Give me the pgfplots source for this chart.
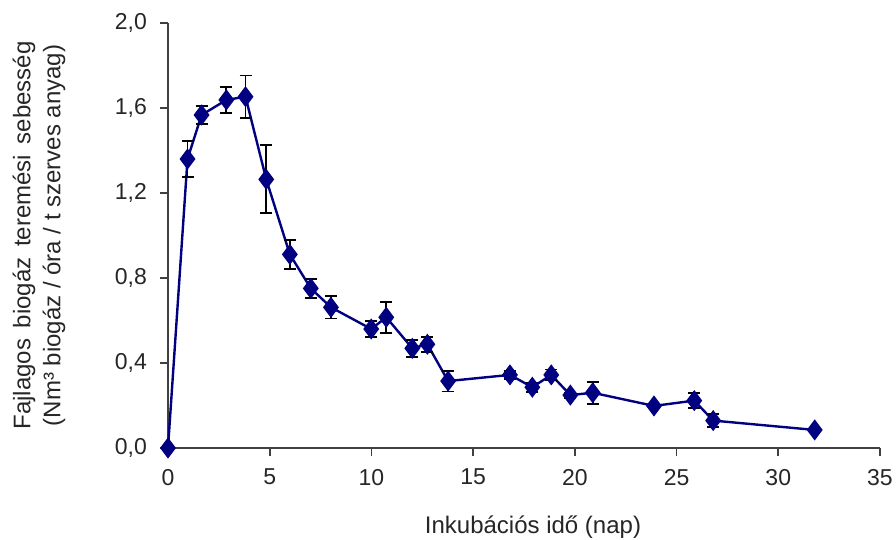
\documentclass[border=0pt]{standalone}
\usepackage{fontspec}
\setmainfont{Liberation Sans}
\usepackage{pgfplots}
\pgfplotsset{compat=1.18}
\definecolor{navy}{HTML}{000080}
\pgfplotstableread{
x y e
0 0 0
0.96 1.36 0.086
1.65 1.567 0.043
2.87 1.638 0.06
3.81 1.653 0.10
4.83 1.264 0.16
5.99 0.911 0.068
7.02 0.751 0.046
8.01 0.662 0.053
9.99 0.56 0.037
10.73 0.615 0.072
12.01 0.469 0.039
12.75 0.488 0.035
13.77 0.315 0.049
16.81 0.344 0.018
17.91 0.286 0.022
18.84 0.344 0.025
19.78 0.249 0.012
20.88 0.26 0.052
23.89 0.198 0.01
25.87 0.223 0.035
26.80 0.129 0.03
31.79 0.085 0
}\biogas
\begin{document}
\begin{tikzpicture}
\path[use as bounding box] (-84pt,-46pt) rectangle (364pt,224pt);
\begin{axis}[
  at={(0,0)}, anchor=south west,
  scale only axis, width=356pt, height=212.5pt,
  xmin=0, xmax=35, ymin=0, ymax=2,
  xtick={0,5,10,15,20,25,30,35},
  ytick={0,0.4,0.8,1.2,1.6,2.0},
  axis lines=left,
  axis line style={-, black!75, line width=0.8pt},
  tick align=outside, major tick length=4pt,
  tick style={black!75, line width=0.8pt},
  /pgf/number format/assume math mode=true,
  tick label style={font=\fontsize{11.5pt}{13pt}\selectfont, black!85},
  x tick label style={yshift=-3pt},
  y tick label style={xshift=-3pt, /pgf/number format/.cd, fixed, fixed zerofill, precision=1, use comma},
  label style={font=\fontsize{12pt}{15pt}\selectfont, black!85},
  xlabel={Inkubációs idő (nap)},
  xlabel style={at={(axis description cs:0.5,0)}, anchor=center, yshift=-39.5pt, xshift=4.5pt},
  ylabel={\makebox[194pt][s]{Fajlagos biogáz teremési sebesség}\\(Nm³ biogáz / óra / t szerves anyag)},
  ylabel style={at={(axis description cs:0,0.5)}, anchor=center, yshift=64.5pt, align=center},
  clip=false,
]
\addplot[navy, line width=1.2pt, mark=diamond*, mark size=4.3pt,
  mark options={fill=navy, solid},
  error bars/.cd, y dir=both, y explicit,
  error bar style={black, line width=0.9pt},
  error mark options={black, mark size=3pt, line width=0.9pt, rotate=90}]
  table[x=x, y=y, y error=e] {\biogas};
\end{axis}
\end{tikzpicture}
\end{document}
